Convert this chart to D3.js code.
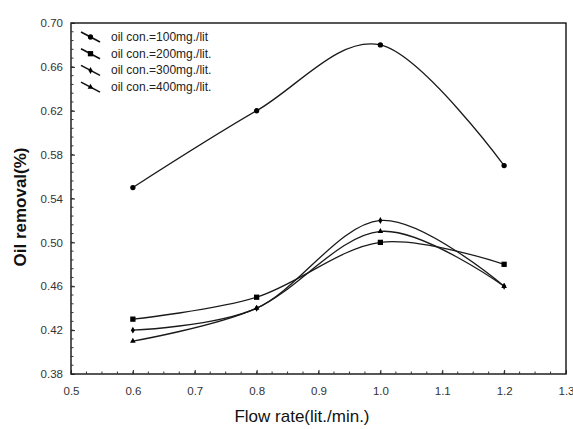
<!DOCTYPE html>
<html>
<head>
<meta charset="utf-8">
<script src="https://cdn.jsdelivr.net/npm/d3@7"></script>
<style>
  body { margin: 0; background: #fff; }
  svg { display: block; font-family: Arial, "Liberation Sans", sans-serif; }
</style>
</head>
<body>
<svg id="chart" width="573" height="429"></svg>
<script>
// --- data ---
var flowRates = [0.6, 0.8, 1.0, 1.2];
var oil100 = [0.55, 0.62, 0.68, 0.57];
var oil200 = [0.43, 0.45, 0.50, 0.48];
var oil300 = [0.42, 0.44, 0.52, 0.46];
var oil400 = [0.41, 0.44, 0.51, 0.46];
var seriesNames = ["oil con.=100mg./lit", "oil con.=200mg./lit.", "oil con.=300mg./lit.", "oil con.=400mg./lit."];
var seriesShapes = ["circle", "square", "diamond", "triangle"];
var xTicks = [0.5, 0.6, 0.7, 0.8, 0.9, 1.0, 1.1, 1.2, 1.3];
var yTicks = [0.38, 0.42, 0.46, 0.50, 0.54, 0.58, 0.62, 0.66, 0.70];

var seriesValues = [oil100, oil200, oil300, oil400];

var svg = d3.select("#chart");
// plot box (note: "top" is reserved on window, so use plot* names)
var plotLeft = 71, plotRight = 566, plotTop = 23, plotBottom = 374;

var x = d3.scaleLinear().domain([0.5, 1.3]).range([plotLeft, plotRight]);
var y = d3.scaleLinear().domain([0.38, 0.70]).range([plotBottom, plotTop]);

// frame
svg.append("rect")
    .attr("x", plotLeft).attr("y", plotTop)
    .attr("width", plotRight - plotLeft).attr("height", plotBottom - plotTop)
    .attr("fill", "none").attr("stroke", "#111").attr("stroke-width", 1.4);

// minor ticks (inward)
var xMinor = d3.range(0, 33).map(i => 0.5 + i * 0.025);
var yMinor = d3.range(0, 41).map(i => 0.38 + i * 0.008);
svg.append("g").selectAll("line").data(xMinor).enter().append("line")
    .attr("x1", d => x(d)).attr("x2", d => x(d))
    .attr("y1", plotBottom).attr("y2", plotBottom - 2.5)
    .attr("stroke", "#333").attr("stroke-width", 1);
svg.append("g").selectAll("line").data(yMinor).enter().append("line")
    .attr("x1", plotLeft).attr("x2", plotLeft + 2.5)
    .attr("y1", d => y(d)).attr("y2", d => y(d))
    .attr("stroke", "#333").attr("stroke-width", 1);

// axes
var xAxis = d3.axisBottom(x).tickValues(xTicks).tickFormat(d3.format(".1f"))
    .tickSizeInner(-4).tickSizeOuter(0).tickPadding(13);
var yAxis = d3.axisLeft(y).tickValues(yTicks).tickFormat(d3.format(".2f"))
    .tickSizeInner(-4).tickSizeOuter(0).tickPadding(8);

var gx = svg.append("g").attr("transform", "translate(0," + plotBottom + ")").call(xAxis);
var gy = svg.append("g").attr("transform", "translate(" + plotLeft + ",0)").call(yAxis);
[gx, gy].forEach(function(g) {
    g.select(".domain").remove();
    g.selectAll(".tick line").attr("stroke", "#222");
    g.selectAll(".tick text").attr("fill", "#333").style("font-size", "11.5px");
});

// axis titles
svg.append("text")
    .attr("x", 302).attr("y", 422)
    .attr("text-anchor", "middle")
    .style("font-size", "17px").attr("fill", "#111")
    .text("Flow rate(lit./min.)");
svg.append("text")
    .attr("transform", "translate(26,207) rotate(-90)")
    .attr("text-anchor", "middle")
    .style("font-size", "17px").style("font-weight", "600").attr("fill", "#111")
    .text("Oil removal(%)");

// markers
function marker(sel, shape) {
    var sym = {
        circle: d3.symbol().type(d3.symbolCircle).size(22),
        square: d3.symbol().type(d3.symbolSquare).size(28),
        diamond: d3.symbol().type(d3.symbolDiamond).size(14),
        triangle: d3.symbol().type(d3.symbolTriangle).size(14)
    }[shape];
    sel.append("path").attr("d", sym()).attr("fill", "#000");
}

var line = d3.line()
    .x((d, i) => x(flowRates[i]))
    .y(d => y(d))
    .curve(d3.curveCardinal.tension(0));

seriesValues.forEach(function(vals, s) {
    svg.append("path")
        .attr("d", line(vals))
        .attr("fill", "none")
        .attr("stroke", "#1a1a1a")
        .attr("stroke-width", 1.3);
    vals.forEach(function(v, i) {
        var g = svg.append("g").attr("transform", "translate(" + x(flowRates[i]) + "," + y(v) + ")");
        marker(g, seriesShapes[s]);
    });
});

// legend
var legend = svg.append("g");
seriesNames.forEach(function(name, i) {
    var cy = 37 + i * 16.7;
    legend.append("line")
        .attr("x1", 81).attr("y1", cy - 5)
        .attr("x2", 100).attr("y2", cy + 5)
        .attr("stroke", "#111").attr("stroke-width", 1.6);
    var g = legend.append("g").attr("transform", "translate(90.5," + cy + ")");
    marker(g, seriesShapes[i]);
    legend.append("text")
        .attr("x", 111).attr("y", cy + 4)
        .style("font-size", "12px").attr("fill", "#222")
        .text(name);
});
</script>
</body>
</html>
